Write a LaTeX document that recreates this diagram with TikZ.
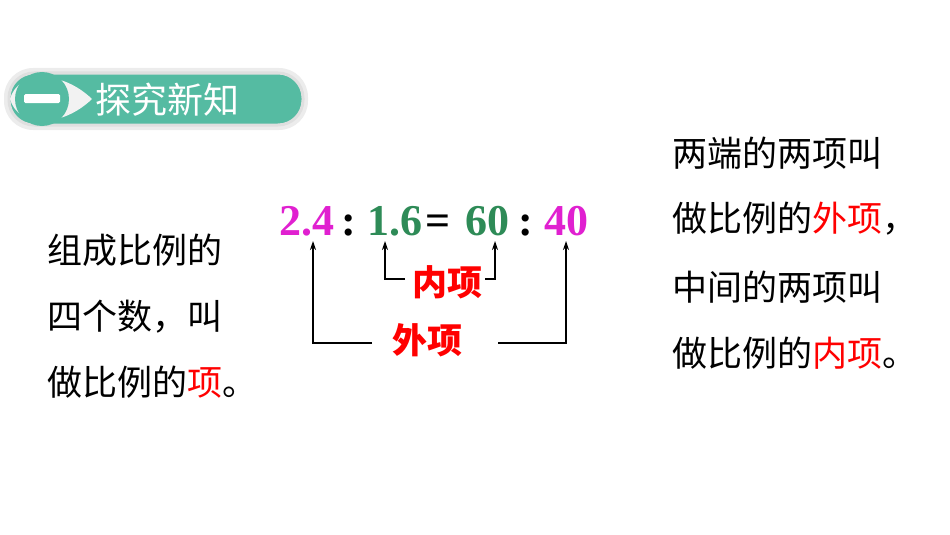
\documentclass[tikz,border=0pt]{standalone}
\usepackage{fontspec}
\usetikzlibrary{arrows.meta}
\newfontfamily\cjk{Noto Sans CJK SC}
\setmainfont{Liberation Serif}
\begin{document}
\begin{tikzpicture}[x=1pt,y=-1pt,
  body/.style={font=\cjk\fontsize{35}{35}\selectfont,anchor=west,inner sep=0},
  num/.style={font=\bfseries\fontsize{44}{44}\selectfont,inner sep=0,anchor=base},
  lab/.style={font=\cjk\bfseries\fontsize{35}{35}\selectfont,text=red,inner sep=0},
  arr/.style={-{Stealth[length=9pt,width=6pt]},line width=1.3pt}]
\useasboundingbox (0,0) rectangle (950,535);
\definecolor{teal}{HTML}{55BBA2}
\definecolor{pink}{HTML}{E020D0}
\definecolor{grn}{HTML}{2E8B57}
% header
\fill[gray!15,rounded corners=29] (4,68) rectangle (308,130);
\draw[gray!25,line width=3pt,fill=teal,rounded corners=25] (9,73) rectangle (303,125);
\fill[white!90!gray] (10,99) .. controls (18,70) and (62,70) .. (92,99) .. controls (62,128) and (18,128) .. (10,99) -- cycle;
\fill[teal] (42,99) circle (27);
\fill[white,rounded corners=1.5] (24,94) rectangle (60,103);
\node[inner sep=0,text=white,font=\cjk\fontsize{36}{36}\selectfont,anchor=west] (hd) at (95,100) {探究新知};
% equation
\node[num,text=pink] (a) at (307,235) {2.4};
\node[num] (c1) at (349,235) {:};
\node[num,text=grn] (b) at (395,235) {1.6};
\node[num] (eq) at (438,235) {=};
\node[num,text=grn] (c) at (487,235) {60};
\node[num] (c2) at (526,235) {:};
\node[num,text=pink] (d) at (566,235) {40};
\node[lab] (in) at (447,282) {内项};
\node[lab] (out) at (427,340) {外项};
\coordinate (l1) at (372,343); \coordinate (l2) at (313,343);
\coordinate (r1) at (498,343); \coordinate (r2) at (566,343);
\coordinate (il1) at (405,279); \coordinate (il2) at (385,279);
\coordinate (ir1) at (485,279); \coordinate (ir2) at (495,279);
\draw[arr] (l1) -- (l2) -- (313,241);
\draw[arr] (r1) -- (r2) -- (566,241);
\draw[arr] (il1) -- (il2) -- (385,241);
\draw[arr] (ir1) -- (ir2) -- (495,241);
% left text
\node[body] (t1) at (47,250) {组成比例的};
\node[body] (t2) at (47,317) {四个数，叫};
\node[body] (t3) at (47,382) {做比例的\textcolor{red}{项}。};
% right text
\node[body] (s1) at (672,153) {两端的两项叫};
\node[body] (s2) at (672,219) {做比例的\textcolor{red}{外项}，};
\node[body] (s3) at (672,287) {中间的两项叫};
\node[body] (s4) at (672,353) {做比例的\textcolor{red}{内项}。};
\end{tikzpicture}
\end{document}
